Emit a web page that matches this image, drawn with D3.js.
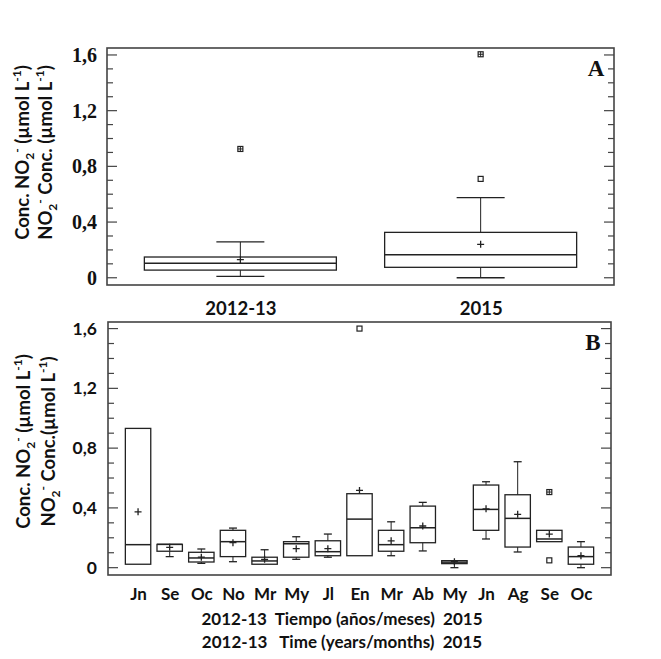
<!DOCTYPE html>
<html>
<head>
<meta charset="utf-8">
<script src="https://cdn.jsdelivr.net/npm/d3@7"></script>
<style>
  body { margin: 0; background: #fff; }
  text { fill: #111; }
</style>
</head>
<body>
<svg id="chart" width="661" height="659"></svg>
<script>
// Panel A: NO2- by period
const years = ["2012-13", "2015"];
const yearQ1 = [0.055, 0.075];
const yearMedian = [0.105, 0.165];
const yearQ3 = [0.149, 0.326];
const yearLow = [0.01, 0.0];
const yearHigh = [0.257, 0.575];
const yearMean = [0.13, 0.24];
const yearOutliers = [[], [0.71]];
const yearFarOutliers = [[0.925], [1.605]];

// Panel B: NO2- by month (2012-13 then 2015)
const monthKeys = ["Jn-12", "Se-12", "Oc-12", "No-12", "Mr-13", "My-13", "Jl-13",
    "En-15", "Mr-15", "Ab-15", "My-15", "Jn-15", "Ag-15", "Se-15", "Oc-15"];
const monthLabels = ["Jn", "Se", "Oc", "No", "Mr", "My", "Jl", "En", "Mr", "Ab", "My", "Jn", "Ag", "Se", "Oc"];
const monthQ1 = [0.023, 0.11, 0.038, 0.074, 0.023, 0.07, 0.08, 0.08, 0.11, 0.167, 0.027, 0.25, 0.138, 0.174, 0.023];
const monthMedian = [0.154, 0.156, 0.065, 0.174, 0.045, 0.16, 0.107, 0.325, 0.154, 0.267, 0.037, 0.39, 0.33, 0.192, 0.074];
const monthQ3 = [0.932, 0.156, 0.103, 0.25, 0.07, 0.174, 0.18, 0.495, 0.25, 0.412, 0.047, 0.553, 0.488, 0.25, 0.138];
const monthLow = [0.023, 0.074, 0.029, 0.04, 0.023, 0.056, 0.07, 0.08, 0.08, 0.112, 0.0, 0.192, 0.105, 0.174, 0.0];
const monthHigh = [0.932, 0.156, 0.125, 0.265, 0.12, 0.207, 0.225, 0.495, 0.307, 0.437, 0.047, 0.575, 0.709, 0.25, 0.174];
const monthMean = [0.374, 0.136, 0.07, 0.167, 0.056, 0.127, 0.127, 0.517, 0.18, 0.279, 0.04, 0.394, 0.357, 0.225, 0.08];
const monthOutliers = [[], [], [], [], [], [], [], [1.6], [], [], [], [], [], [0.049], []];
const monthFarOutliers = [[], [], [], [], [], [], [], [], [], [], [], [], [], [0.506], []];

const majorTicks = [0, 0.4, 0.8, 1.2, 1.6];
const minorTicks = [0.1, 0.2, 0.3, 0.5, 0.6, 0.7, 0.9, 1.0, 1.1, 1.3, 1.4, 1.5];

const svg = d3.select("#chart");
const sans = "Lato, 'Open Sans', sans-serif";
const serif = "'Liberation Serif', 'DejaVu Serif', serif";
const fmt = d => String(d).replace(".", ",");

function buildBoxes(keys, q1, med, q3, lo, hi, mean, out, far) {
    return keys.map((k, i) => ({
        key: k, q1: q1[i], med: med[i], q3: q3[i], lo: lo[i], hi: hi[i],
        mean: mean[i], out: out[i], far: far[i]
    }));
}

function drawPanel(opt) {
    const g = svg.append("g");
    const x = d3.scalePoint().domain(opt.keys).range([opt.left, opt.right]).padding(opt.padding);
    const y = d3.scaleLinear().domain(opt.yDomain).range([opt.bottom, opt.top]);

    // inward ticks on both sides
    [[opt.left, 1], [opt.right, -1]].forEach(([ax, dir]) => {
        g.selectAll(null).data(majorTicks).join("line")
            .attr("x1", ax).attr("x2", ax + dir * 10)
            .attr("y1", d => y(d)).attr("y2", d => y(d))
            .attr("stroke", "#444").attr("stroke-width", 1.2);
        g.selectAll(null).data(minorTicks).join("line")
            .attr("x1", ax).attr("x2", ax + dir * 6)
            .attr("y1", d => y(d)).attr("y2", d => y(d))
            .attr("stroke", "#444").attr("stroke-width", 1.2);
    });

    const yAxis = d3.axisLeft(y).tickValues(majorTicks).tickFormat(fmt).tickSize(0).tickPadding(opt.labelPad);
    const ya = g.append("g").attr("transform", `translate(${opt.left},0)`).call(yAxis);
    ya.select(".domain").remove();
    ya.selectAll("text")
        .style("font-family", opt.tickFont).style("font-weight", "bold")
        .style("font-size", opt.tickSize + "px").attr("fill", "#111");

    const xAxis = d3.axisBottom(x).tickSize(0).tickPadding(opt.xPad).tickFormat(opt.xFormat);
    const xa = g.append("g").attr("transform", `translate(0,${opt.bottom})`).call(xAxis);
    xa.select(".domain").remove();
    xa.selectAll("text")
        .style("font-family", sans).style("font-weight", "bold")
        .style("font-size", opt.xSize + "px").attr("fill", "#111");

    const box = g.selectAll(".box").data(opt.data).join("g").attr("class", "box")
        .attr("transform", d => `translate(${x(d.key)},0)`);
    const ink = "#222";

    box.append("line").attr("x1", 0).attr("x2", 0)
        .attr("y1", d => y(d.q3)).attr("y2", d => y(d.hi)).attr("stroke", ink);
    box.append("line").attr("x1", 0).attr("x2", 0)
        .attr("y1", d => y(d.q1)).attr("y2", d => y(d.lo)).attr("stroke", ink);
    box.filter(d => d.hi > d.q3).append("line")
        .attr("x1", -opt.cap).attr("x2", opt.cap)
        .attr("y1", d => y(d.hi)).attr("y2", d => y(d.hi)).attr("stroke", ink).attr("stroke-width", 1.3);
    box.filter(d => d.lo < d.q1).append("line")
        .attr("x1", -opt.cap).attr("x2", opt.cap)
        .attr("y1", d => y(d.lo)).attr("y2", d => y(d.lo)).attr("stroke", ink).attr("stroke-width", 1.3);
    box.append("rect")
        .attr("x", -opt.half).attr("width", opt.half * 2)
        .attr("y", d => y(d.q3)).attr("height", d => Math.max(1, y(d.q1) - y(d.q3)))
        .attr("fill", "none").attr("stroke", ink).attr("stroke-width", 1.3);
    box.append("line")
        .attr("x1", -opt.half).attr("x2", opt.half)
        .attr("y1", d => y(d.med)).attr("y2", d => y(d.med)).attr("stroke", ink).attr("stroke-width", 1.5);
    // mean cross
    box.append("path")
        .attr("d", d => `M-3.5,${y(d.mean)}h7M0,${y(d.mean) - 3.5}v7`)
        .attr("stroke", ink).attr("stroke-width", 1.3);
    // outliers
    box.selectAll(".out").data(d => d.out.concat(d.far).map((v, i) => ({ v, far: i >= d.out.length })))
        .join("g").attr("class", "out")
        .each(function (o) {
            const s = d3.select(this);
            s.append("rect").attr("x", -2.5).attr("y", y(o.v) - 2.5).attr("width", 5).attr("height", 5)
                .attr("fill", "#fff").attr("stroke", ink).attr("stroke-width", 1.2);
            if (o.far) {
                s.append("path").attr("d", `M-2.5,${y(o.v)}h5M0,${y(o.v) - 2.5}v5`)
                    .attr("stroke", ink).attr("stroke-width", 1);
            }
        });

    // frame
    g.append("rect").attr("x", opt.left).attr("y", opt.top)
        .attr("width", opt.right - opt.left).attr("height", opt.bottom - opt.top)
        .attr("fill", "none").attr("stroke", "#444").attr("stroke-width", 1.6);

    g.append("text").attr("x", opt.right - 18).attr("y", opt.top + 28)
        .attr("text-anchor", "middle")
        .style("font-family", serif).style("font-weight", "bold").style("font-size", "23px")
        .text(opt.letter);

    // two-line rotated y title
    const cy = (opt.top + opt.bottom) / 2 + opt.titleShift;
    const lines = [
        [["Conc. NO", 0], ["2", 1], ["-", -1], [" (µmol L", 0], ["-1", -1], [")", 0]],
        [["NO", 0], ["2", 1], ["-", -1], [opt.secondGap, 0], ["(µmol L", 0], ["-1", -1], [")", 0]]
    ];
    lines.forEach((parts, li) => {
        const t = svg.append("text")
            .attr("transform", `translate(${opt.titleX[li]},${cy}) rotate(-90)`)
            .attr("text-anchor", "middle")
            .style("font-family", sans).style("font-weight", "bold").style("font-size", "18.5px");
        let shift = 0;
        parts.forEach(([s, lvl]) => {
            const target = lvl === 1 ? 4.5 : lvl === -1 ? -8 : 0;
            t.append("tspan").attr("dy", target - shift)
                .style("font-size", lvl === 0 ? "18.5px" : "12px")
                .text(s);
            shift = target;
        });
    });
}

const dataA = buildBoxes(years, yearQ1, yearMedian, yearQ3, yearLow, yearHigh, yearMean, yearOutliers, yearFarOutliers);
const dataB = buildBoxes(monthKeys, monthQ1, monthMedian, monthQ3, monthLow, monthHigh, monthMean, monthOutliers, monthFarOutliers);

drawPanel({
    keys: years, data: dataA, left: 107, right: 614, top: 48, bottom: 285,
    padding: 0.555, yDomain: [-0.052, 1.65], half: 96, cap: 24,
    tickFont: serif, tickSize: 20, labelPad: 10, xPad: 17, xSize: 18.5,
    xFormat: d => d, letter: "A", titleX: [29, 52], titleShift: -14, secondGap: " Conc. "
});

drawPanel({
    keys: monthKeys, data: dataB, left: 108, right: 611, top: 322, bottom: 575,
    padding: 0.95, yDomain: [-0.049, 1.644], half: 12.7, cap: 4,
    tickFont: sans, tickSize: 17.5, labelPad: 11, xPad: 13, xSize: 17,
    xFormat: (d, i) => monthLabels[i], letter: "B", titleX: [30, 55], titleShift: -7, secondGap: " Conc."
});

// shared x title
["2012-13  Tiempo (años/meses)  2015", "2012-13   Time (years/months)  2015"].forEach((s, i) => {
    svg.append("text").attr("x", 342).attr("y", 625 + i * 22.5)
        .attr("text-anchor", "middle").attr("xml:space", "preserve")
        .style("white-space", "pre")
        .style("font-family", sans).style("font-weight", "bold").style("font-size", "17px")
        .text(s);
});
</script>
</body>
</html>
